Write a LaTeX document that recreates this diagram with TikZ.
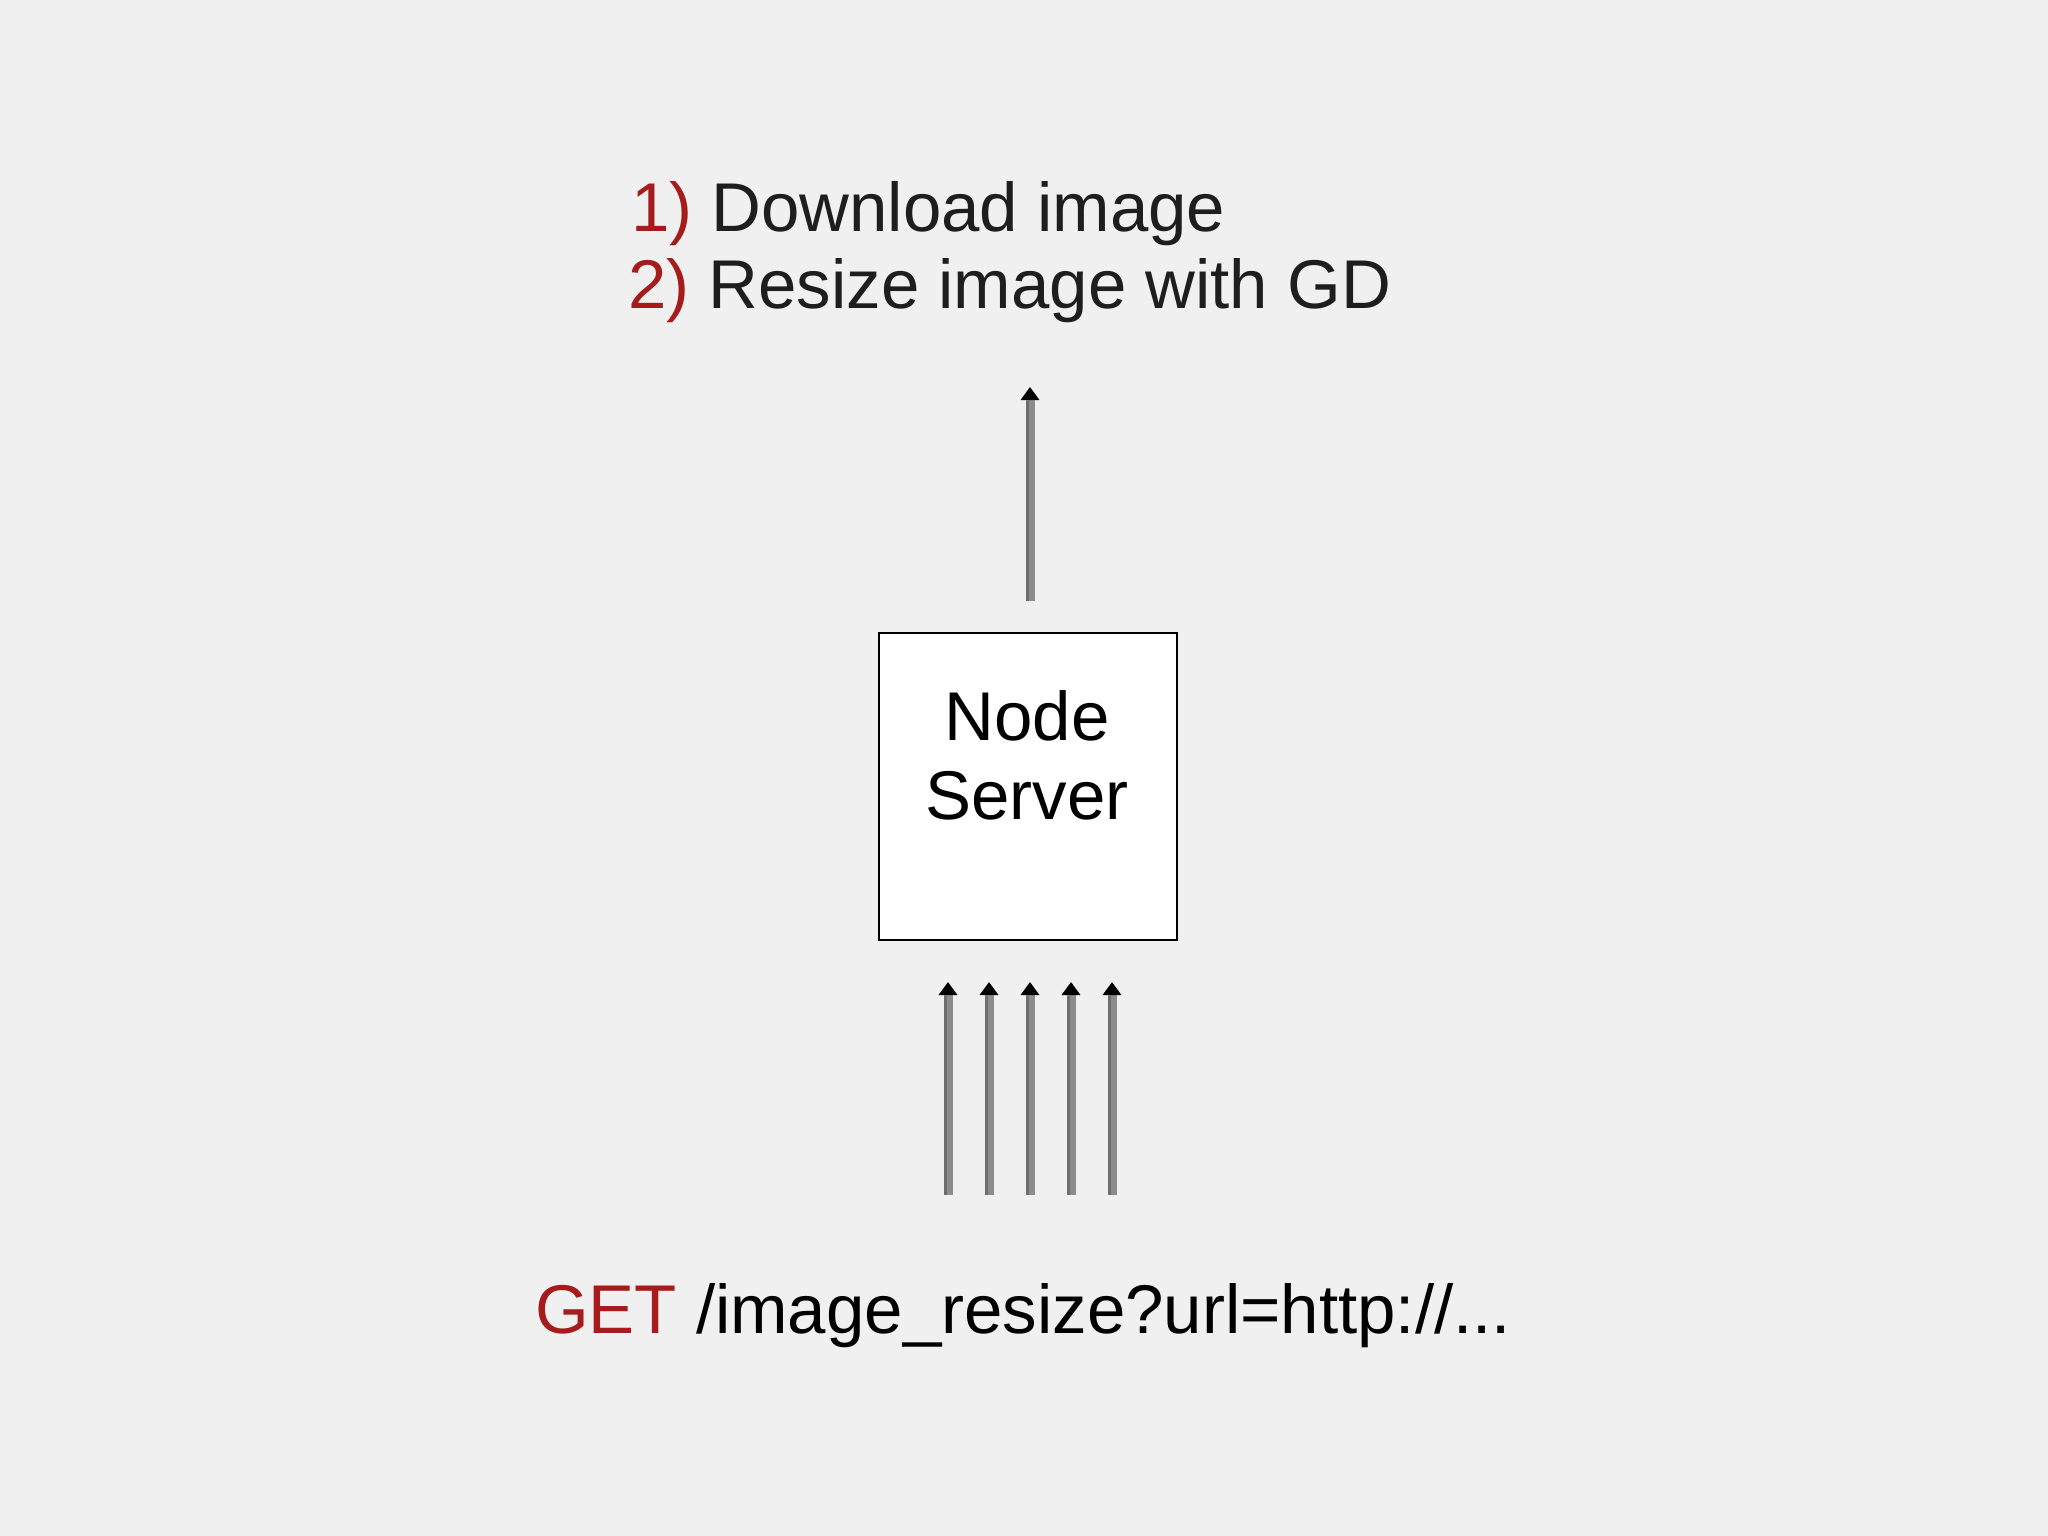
\documentclass[tikz,border=0pt]{standalone}
\usepackage{fontspec}
\setmainfont{Liberation Sans}
\usetikzlibrary{arrows.meta}
\definecolor{bgc}{RGB}{241,240,241}
\definecolor{redc}{RGB}{166,28,28}
\definecolor{txtc}{RGB}{30,30,30}
\definecolor{shaftc}{RGB}{140,140,140}
\definecolor{shaftdark}{RGB}{110,110,110}
\tikzset{
  bigtext/.style={font=\fontsize{69}{78}\selectfont, inner sep=0pt, outer sep=0pt},
  serverbox/.style={draw=black, line width=2pt, fill=white, minimum width=298pt, minimum height=307pt, inner sep=0pt},
  uparrow/.style={draw=shaftc, line width=9pt, -{Triangle[width=18pt,length=13pt,black,fill=black]}},
  shaftedge/.style={draw=shaftdark, line width=3pt},
}
\begin{document}
\begin{tikzpicture}[x=1pt,y=-1pt]
\useasboundingbox (0,0) rectangle (2048,1536);
\fill[bgc] (0,0) rectangle (2048,1536);

\node[bigtext, anchor=base west, text=txtc] (step1) at (631,231) {\textcolor{redc}{1)} Download image};
\node[bigtext, anchor=base west, text=txtc] (step2) at (628,308) {\textcolor{redc}{2)} Resize image with GD};

\node[serverbox] (server) at (1028,786.5) {};
\node[bigtext, anchor=base, text=black] (nodelbl) at (1027,740) {Node};
\node[bigtext, anchor=base, text=black] (serverlbl) at (1027,819) {Server};

\node[bigtext, anchor=base west, text=black] (req) at (535,1333) {\textcolor{redc}{GET} /image\_resize?url=http://...};

\coordinate (topstart) at (1030,601);
\coordinate (topend) at (1030,387);
\draw[uparrow] (topstart) -- (topend);
\draw[shaftedge] ([xshift=-2.5pt]topstart) -- ([xshift=-2.5pt,yshift=-14pt]topend);

\foreach \i/\x in {1/948,2/989,3/1030,4/1071,5/1112} {
  \coordinate (in\i s) at (\x,1195);
  \coordinate (in\i e) at (\x,982);
  \draw[uparrow] (in\i s) -- (in\i e);
  \draw[shaftedge] ([xshift=-2.5pt]in\i s) -- ([xshift=-2.5pt,yshift=-14pt]in\i e);
}
\end{tikzpicture}
\end{document}
